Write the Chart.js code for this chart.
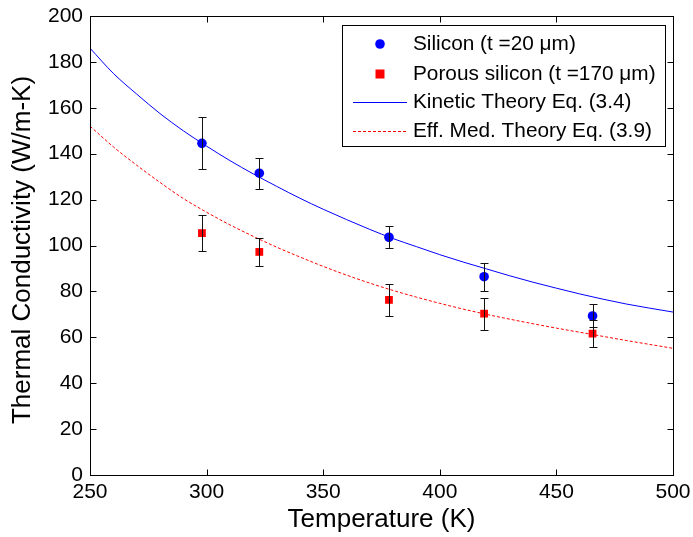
<!DOCTYPE html>
<html>
<head>
<meta charset="utf-8">
<script src="https://cdn.jsdelivr.net/npm/chart.js@4/dist/chart.umd.min.js"></script>
<style>
  html, body { margin: 0; padding: 0; background: #fff; }
  canvas { display: block; }
</style>
</head>
<body>
<canvas id="c" width="693" height="537"></canvas>
<script>
// Measured samples
const sampleTemps   = [298, 322.6, 378.2, 419, 465.5];
const siliconK      = [144.5, 131.5, 103.6, 86.4, 69.3];
const siliconErr    = [11.3, 6.8, 4.9, 6.1, 5.0];
const porousK       = [105.4, 97.2, 76.3, 70.3, 61.6];
const porousErr     = [8.0, 6.2, 6.9, 7.0, 6.0];

// Model curves
const curveTemps    = [250, 260, 270, 280, 290, 300, 310, 320, 330, 340, 350, 360, 370,
                       380, 390, 400, 410, 420, 430, 440, 450, 460, 470, 480, 490, 500];
const kineticK      = [186, 175, 166, 157.5, 150, 143.3, 137, 131.2, 125.8, 120.6, 115.8, 111.3, 107,
                       103, 99.5, 96, 92.8, 89.8, 86.8, 84.0, 81.4, 78.9, 76.6, 74.5, 72.7, 71.0];
const effMedK       = [152, 143, 135, 127.5, 120.5, 114.5, 109, 104, 99.3, 95, 90.9, 87.1, 83.6,
                       80.4, 77.5, 74.8, 72.3, 70.0, 67.9, 65.9, 64.0, 62.2, 60.4, 58.6, 56.9, 55.2];

// Axis ticks
const xTicks = [250, 300, 350, 400, 450, 500];
const yTicks = [0, 20, 40, 60, 80, 100, 120, 140, 160, 180, 200];

const xTitle = 'Temperature (K)';
const yTitle = 'Thermal Conductivity (W/m-K)';
const legendLabels = ['Silicon (t =20 \u03BCm)', 'Porous silicon (t =170 \u03BCm)',
                      'Kinetic Theory Eq. (3.4)', 'Eff. Med. Theory Eq. (3.9)'];

const pts = (xs, ys) => xs.map((x, i) => ({ x, y: ys[i] }));
const FONT = 'Arial, "Liberation Sans", sans-serif';

// Error bars for the two measured series
const errorBars = {
  id: 'errorBars',
  afterDatasetsDraw(chart) {
    const { ctx, scales: { x, y } } = chart;
    ctx.save();
    ctx.strokeStyle = '#111';
    ctx.lineWidth = 1;
    const draw = (vals, errs) => {
      sampleTemps.forEach((t, i) => {
        const px = Math.round(x.getPixelForValue(t)) + 0.5;
        const top = Math.round(y.getPixelForValue(vals[i] + errs[i])) + 0.5;
        const bot = Math.round(y.getPixelForValue(vals[i] - errs[i])) + 0.5;
        ctx.beginPath();
        ctx.moveTo(px, top); ctx.lineTo(px, bot);
        ctx.moveTo(px - 4, top); ctx.lineTo(px + 4, top);
        ctx.moveTo(px - 4, bot); ctx.lineTo(px + 4, bot);
        ctx.stroke();
      });
    };
    draw(siliconK, siliconErr);
    draw(porousK, porousErr);
    ctx.restore();
  }
};

// Boxed axes with inward tick marks on all four sides, plus the y-axis title
const boxAxes = {
  id: 'boxAxes',
  afterDraw(chart) {
    const { ctx, chartArea: a, scales: { x, y } } = chart;
    const L = Math.round(a.left) + 0.5, R = Math.round(a.right) + 0.5;
    const T = Math.round(a.top) + 0.5, B = Math.round(a.bottom) + 0.5;
    ctx.save();
    ctx.strokeStyle = '#000';
    ctx.lineWidth = 1;
    ctx.beginPath();
    xTicks.forEach(v => {
      const px = Math.round(x.getPixelForValue(v)) + 0.5;
      ctx.moveTo(px, B); ctx.lineTo(px, B - 6);
      ctx.moveTo(px, T); ctx.lineTo(px, T + 6);
    });
    yTicks.forEach(v => {
      const py = Math.round(y.getPixelForValue(v)) + 0.5;
      ctx.moveTo(L, py); ctx.lineTo(L + 6, py);
      ctx.moveTo(R, py); ctx.lineTo(R - 6, py);
    });
    ctx.stroke();
    ctx.strokeRect(L, T, R - L, B - T);

    ctx.translate(23, 250);
    ctx.rotate(-Math.PI / 2);
    ctx.font = '26px ' + FONT;
    ctx.fillStyle = '#000';
    ctx.textAlign = 'center';
    ctx.textBaseline = 'middle';
    ctx.fillText(yTitle, 0, 0);
    ctx.restore();
  }
};

// Legend box in the upper right of the plot
const boxLegend = {
  id: 'boxLegend',
  afterDraw(chart) {
    const { ctx } = chart;
    ctx.save();
    const bx = 342.5, by = 25.5, bw = 323, bh = 121;
    ctx.fillStyle = '#fff';
    ctx.fillRect(bx, by, bw, bh);
    ctx.strokeStyle = '#000';
    ctx.lineWidth = 1;
    ctx.strokeRect(bx, by, bw, bh);
    const rows = [44, 74, 102, 131];
    ctx.font = '20.8px ' + FONT;
    ctx.fillStyle = '#000';
    ctx.textBaseline = 'middle';
    ctx.textAlign = 'left';
    legendLabels.forEach((txt, i) => ctx.fillText(txt, 413, rows[i] + 0.5));
    // symbols
    ctx.fillStyle = '#0000ff';
    ctx.beginPath(); ctx.arc(380, rows[0], 4.8, 0, Math.PI * 2); ctx.fill();
    ctx.fillStyle = '#ff0000';
    ctx.fillRect(375.5, rows[1] - 4.5, 9, 9);
    ctx.strokeStyle = '#0000ff';
    ctx.beginPath(); ctx.moveTo(353, rows[2] + 0.5); ctx.lineTo(407, rows[2] + 0.5); ctx.stroke();
    ctx.strokeStyle = '#ff0000';
    ctx.setLineDash([3, 2]);
    ctx.beginPath(); ctx.moveTo(353, rows[3] + 0.5); ctx.lineTo(407, rows[3] + 0.5); ctx.stroke();
    ctx.restore();
  }
};

new Chart(document.getElementById('c'), {
  type: 'scatter',
  data: {
    datasets: [
      {
        label: legendLabels[2],
        type: 'line',
        data: pts(curveTemps, kineticK),
        borderColor: '#0000ff',
        borderWidth: 1,
        pointRadius: 0,
        cubicInterpolationMode: 'monotone',
        fill: false
      },
      {
        label: legendLabels[3],
        type: 'line',
        data: pts(curveTemps, effMedK),
        borderColor: '#ff0000',
        borderWidth: 1,
        borderDash: [3, 2],
        pointRadius: 0,
        cubicInterpolationMode: 'monotone',
        fill: false
      },
      {
        label: legendLabels[0],
        data: pts(sampleTemps, siliconK),
        pointStyle: 'circle',
        pointRadius: 4.8,
        backgroundColor: '#0000ff',
        borderColor: '#0000ff',
        borderWidth: 0
      },
      {
        label: legendLabels[1],
        data: pts(sampleTemps, porousK),
        pointStyle: 'rect',
        pointRadius: 5.5,
        backgroundColor: '#ff0000',
        borderColor: '#ff0000',
        borderWidth: 0
      }
    ]
  },
  options: {
    responsive: false,
    devicePixelRatio: 1,
    animation: false,
    layout: { padding: { left: 0, top: 16, right: 20, bottom: 0 } },
    plugins: { legend: { display: false }, tooltip: { enabled: false } },
    scales: {
      x: {
        type: 'linear',
        min: 250, max: 500,
        afterBuildTicks: s => { s.ticks = xTicks.map(v => ({ value: v })); },
        ticks: { color: '#000', font: { family: FONT, size: 21 }, padding: 5, maxRotation: 0 },
        grid: { display: false, drawTicks: false },
        border: { display: false },
        title: { display: true, text: xTitle, color: '#000',
                 font: { family: FONT, size: 26 }, padding: { top: 0, bottom: 2 } },
        afterFit: s => { s.height = 62; s.paddingLeft = 0; s.paddingRight = 0; }
      },
      y: {
        min: 0, max: 200,
        afterBuildTicks: s => { s.ticks = yTicks.map(v => ({ value: v })); },
        ticks: { color: '#000', font: { family: FONT, size: 21 }, padding: 7 },
        grid: { display: false, drawTicks: false },
        border: { display: false },
        title: { display: false },
        afterFit: s => { s.width = 90; s.paddingTop = 0; s.paddingBottom = 0; }
      }
    }
  },
  plugins: [errorBars, boxAxes, boxLegend]
});
</script>
</body>
</html>
